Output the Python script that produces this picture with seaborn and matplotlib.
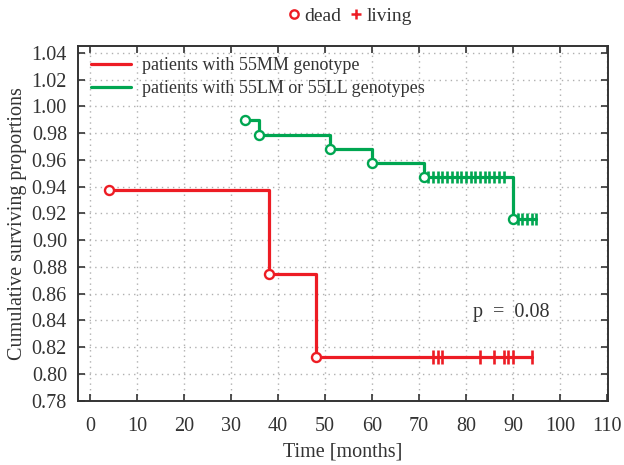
import matplotlib
matplotlib.use("Agg")
import matplotlib.pyplot as plt
from matplotlib.lines import Line2D
import seaborn as sns
import pandas as pd

# ---- data ----
red_times = [4, 38, 48, 94]
red_surv = [0.9375, 0.875, 0.8125, 0.8125]
red_dead_t = [4, 38, 48]
red_dead_s = [0.9375, 0.875, 0.8125]
red_cens_t = [73, 74, 75, 83, 86, 88, 89, 90, 94]

green_times = [33, 36, 51, 60, 71, 90, 95]
green_surv = [0.9894, 0.9789, 0.9684, 0.9579, 0.9474, 0.9158, 0.9158]
green_dead_t = [33, 36, 51, 60, 71, 90]
green_dead_s = [0.9894, 0.9789, 0.9684, 0.9579, 0.9474, 0.9158]
green_cens_t = [72, 73, 74, 75, 76, 77, 78, 79, 80, 81, 82, 83, 84, 85, 86, 87, 88, 91, 92, 93, 94, 95]

x_ticks = list(range(0, 111, 10))
y_ticks = [0.78 + 0.02 * i for i in range(14)]

RED = "#ED1C24"
GREEN = "#00A651"
LAB_RED = "patients with 55MM genotype"
LAB_GREEN = "patients with 55LM or 55LL genotypes"

def cens_surv(st, ss, ct):
    out = []
    for c in ct:
        v = ss[0]
        for t, s in zip(st, ss):
            if t <= c:
                v = s
        out.append(v)
    return out

sns.set_style("ticks")
plt.rcParams["font.family"] = ["Liberation Serif", "DejaVu Serif"]

fig = plt.figure(figsize=(6.24, 4.65), dpi=100)
ax = fig.add_axes([0.125, 0.138, 0.849, 0.763])

df_r = pd.DataFrame({"t": red_times, "s": red_surv})
df_g = pd.DataFrame({"t": green_times, "s": green_surv})
sns.lineplot(data=df_r, x="t", y="s", drawstyle="steps-post", color=RED, lw=2.3, ax=ax, zorder=3)
sns.lineplot(data=df_g, x="t", y="s", drawstyle="steps-post", color=GREEN, lw=2.3, ax=ax, zorder=3)

# censored marks
ax.plot(red_cens_t, cens_surv(red_times, red_surv, red_cens_t), ls="none",
        marker="|", ms=10, mew=1.9, color=RED, zorder=4)
ax.plot(green_cens_t, cens_surv(green_times, green_surv, green_cens_t), ls="none",
        marker="|", ms=9, mew=1.9, color=GREEN, zorder=4)
# deaths
ax.plot(red_dead_t, red_dead_s, ls="none", marker="o", ms=6.5, mew=1.7,
        mfc="white", mec=RED, zorder=5)
ax.plot(green_dead_t, green_dead_s, ls="none", marker="o", ms=6.5, mew=1.7,
        mfc="white", mec=GREEN, zorder=5)

ax.set_xlim(-2.6, 110.2)
ax.set_ylim(0.78, 1.045)
ax.set_xticks(x_ticks)
ax.set_yticks(y_ticks)
ax.set_yticklabels([f"{v:.2f}" for v in y_ticks])
ax.tick_params(direction="in", top=True, right=True, length=5, width=1.2,
               labelsize=14.5, colors="#333333", labelcolor="#333333")
ax.tick_params(axis="x", pad=12)
ax.tick_params(axis="y", pad=8)
for sp in ax.spines.values():
    sp.set_visible(True)
    sp.set_linewidth(1.4)
    sp.set_color("#333333")
ax.grid(True, ls=(0, (1, 3)), color="#b0b0b0", lw=1.0)
ax.set_xlabel("Time [months]", fontsize=14.5, color="#333333", labelpad=4)
ax.set_ylabel("Cumulative surviving proportions", fontsize=14.5, color="#333333", labelpad=3)

h = [Line2D([], [], color=RED, lw=2.3), Line2D([], [], color=GREEN, lw=2.3)]
ax.legend(h, [LAB_RED, LAB_GREEN], loc="upper left", frameon=False, fontsize=13,
          handlelength=2.2, handletextpad=0.6, borderaxespad=0.2, labelspacing=0.35,
          labelcolor="#333333", bbox_to_anchor=(0.005, 1.0))

ax.text(81.5, 0.846, "p  =  0.08", fontsize=14.5, color="#333333", va="center", ha="left")

h2 = [Line2D([], [], ls="none", marker="o", mfc="white", mec=RED, mew=1.7, ms=6),
      Line2D([], [], ls="none", marker="+", color=RED, mew=1.8, ms=7)]
fig.legend(h2, ["dead", "living"], loc="center", bbox_to_anchor=(0.562, 0.966), ncol=2,
           frameon=False, fontsize=14, handlelength=0.5, handletextpad=0.3,
           columnspacing=0.5, labelcolor="#333333")

fig.savefig("out.png", dpi=100)
